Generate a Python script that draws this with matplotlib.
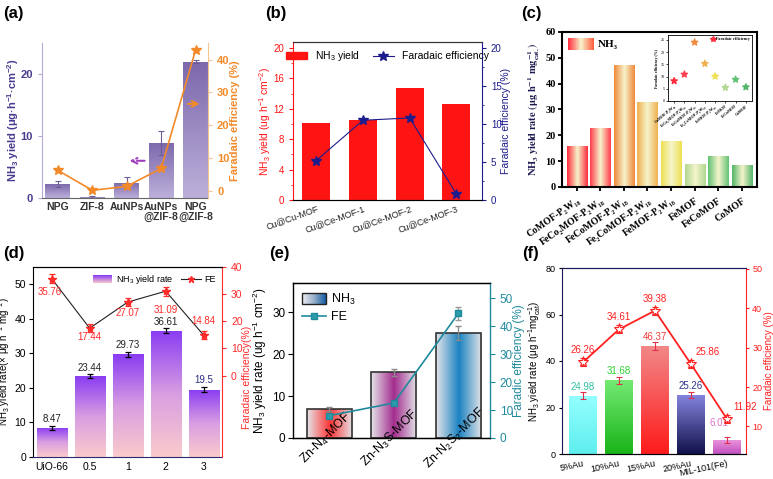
import numpy as np
import matplotlib
matplotlib.use('Agg')
import matplotlib.pyplot as plt
from matplotlib.colors import LinearSegmentedColormap
from matplotlib.legend_handler import HandlerBase
from matplotlib.patches import Rectangle, Patch
from matplotlib.lines import Line2D
from matplotlib.ticker import MultipleLocator

plt.rcParams['font.family'] = ['Liberation Sans', 'DejaVu Sans']
plt.rcParams['mathtext.fontset'] = 'custom'
plt.rcParams['mathtext.rm'] = 'Liberation Sans'
plt.rcParams['mathtext.it'] = 'Liberation Sans:italic'
plt.rcParams['mathtext.bf'] = 'Liberation Sans:bold'
plt.rcParams['mathtext.default'] = 'regular'

# ---- data ----
# (a)
a_labels = ['NPG', 'ZIF-8', 'AuNPs', 'AuNPs\n@ZIF-8', 'NPG\n@ZIF-8']
a_yield = [2.2, 0.1, 2.5, 8.9, 22.0]
a_yield_err = [0.5, 0.2, 0.9, 1.9, 0.3]
a_fe = [6.2, 0.1, 1.3, 6.8, 43.0]

# (b)
b_labels = ['Cu@Cu-MOF', 'Cu@Ce-MOF-1', 'Cu@Ce-MOF-2', 'Cu@Ce-MOF-3']
b_yield = [10.2, 10.5, 14.8, 12.7]
b_fe = [5.2, 10.5, 10.8, 0.8]

# (c)
c_labels = ['CoMOF-P₂W₁₈', 'FeCo₂MOF-P₂W₁₈', 'FeCoMOF-P₂W₁₈', 'Fe₂CoMOF-P₂W₁₈',
            'FeMOF-P₂W₁₈', 'FeMOF', 'FeCoMOF', 'CoMOF']
c_yield = [16.0, 22.7, 47.3, 33.0, 17.8, 8.8, 12.0, 8.7]
c_fe = [8.2, 10.9, 24.0, 15.3, 10.1, 5.5, 8.8, 5.7]
c_colors = ['#ff2a3a', '#ff3c4c', '#f0883a', '#f0b050', '#eee050', '#b0d890', '#62c274', '#52b466']

# (d)
d_labels = ['UiO-66', '0.5', '1', '2', '3']
d_yield = [8.47, 23.44, 29.73, 36.61, 19.5]
d_yield_err = [0.6, 0.6, 0.7, 0.6, 0.8]
d_fe = [35.76, 17.44, 27.07, 31.09, 14.84]
d_fe_err = [1.5, 1.5, 1.5, 1.6, 1.5]

# (e)
e_labels = ['Zn-N$_4$-MOF', 'Zn-N$_3$S-MOF', 'Zn-N$_2$S$_2$-MOF']
e_yield = [7.0, 15.7, 25.1]
e_yield_err = [0.5, 0.8, 1.6]
e_fe = [8.0, 12.5, 44.5]
e_fe_err = [0.8, 0.8, 2.5]
e_colors = ['#ff3434', '#a32c8e', '#1a82c2']

# (f)
f_labels = ['5%Au', '10%Au', '15%Au', '20%Au', 'MIL-101(Fe)']
f_yield = [24.98, 31.68, 46.37, 25.26, 6.01]
f_yield_err = [1.5, 1.4, 1.7, 1.3, 1.2]
f_fe = [26.26, 34.61, 39.38, 25.86, 11.92]
f_fe_err = [1.0, 1.0, 1.0, 1.0, 1.0]
f_bottom = ['#5eeeee', '#18b418', '#ff1a1a', '#10104a', '#c050c0']
f_top = ['#94ffff', '#74ea74', '#f28888', '#8484de', '#ea92da']
f_label_colors = ['#34c0a4', '#30d030', '#f03c3c', '#303090', '#e070c8']

W, H = 773, 479
fig = plt.figure(figsize=(W / 100, H / 100), dpi=100)


def px_axes(l, t, r, b):
    return fig.add_axes([l / W, 1 - b / H, (r - l) / W, (b - t) / H])


def fill_bars(ax, bars, colors, horizontal):
    # gradient image clipped to each bar
    for bar, cols in zip(bars, colors):
        cmap = LinearSegmentedColormap.from_list('bar', cols)
        g = np.linspace(0, 1, 128)
        img = g.reshape(1, -1) if horizontal else g.reshape(-1, 1)
        x0, y0 = bar.get_x(), bar.get_y()
        im = ax.imshow(img, cmap=cmap, origin='lower', aspect='auto', interpolation='bilinear',
                       extent=(x0, x0 + bar.get_width(), y0, y0 + bar.get_height()), zorder=1.5)
        im.set_clip_path(bar)


class GradientHandler(HandlerBase):
    def __init__(self, colors, horizontal=True, edgecolor='none'):
        super().__init__()
        self.cmap = LinearSegmentedColormap.from_list('lg', colors)
        self.horizontal = horizontal
        self.edgecolor = edgecolor

    def create_artists(self, legend, orig_handle, xdescent, ydescent, width, height, fontsize, trans):
        n = 40
        arts = []
        for i in range(n):
            c = self.cmap(i / (n - 1))
            if self.horizontal:
                r = Rectangle((-xdescent + width * i / n, -ydescent), width / n * 1.1, height,
                              fc=c, ec='none', lw=0, transform=trans)
            else:
                r = Rectangle((-xdescent, -ydescent + height * i / n), width, height / n * 1.1,
                              fc=c, ec='none', lw=0, transform=trans)
            arts.append(r)
        if self.edgecolor != 'none':
            arts.append(Rectangle((-xdescent, -ydescent), width, height, fill=False,
                                  ec=self.edgecolor, lw=1, transform=trans))
        return arts


# ================= (a) =================
purple = '#4a3b8f'
orange = '#f28a2a'
ax = px_axes(42, 43, 208, 198)
x = np.arange(len(a_labels))
bars = ax.bar(x, a_yield, width=0.72, color='none', edgecolor='none', zorder=2,
              yerr=a_yield_err, error_kw=dict(ecolor='#6d5c95', elinewidth=0.8, capsize=2, capthick=0.8, zorder=3))
fill_bars(ax, bars, [['#bcb0da', '#7c68ac']] * len(bars), horizontal=False)
ax.set_xlim(-0.46, 4.36)
ax.set_ylim(0, 25)
ax.set_yticks([0, 10, 20])
ax.set_xticks(x)
ax.set_xticklabels(a_labels, fontsize=7.5, fontweight='bold', color='#333333', linespacing=1.0)
ax.tick_params(axis='x', length=0, pad=3)
ax.tick_params(axis='y', colors='#b8a8d8', labelcolor=purple, labelsize=8, length=3)
for t in ax.get_yticklabels():
    t.set_fontweight('bold')
ax.spines['left'].set_color('#b8a8d8')
ax.spines['bottom'].set_color('#666666')
ax.spines['top'].set_visible(False)
ax.spines['right'].set_visible(False)
ax.set_ylabel('NH$_3$ yield (μg·h$^{-1}$·cm$^{-2}$)', color=purple, fontsize=8, fontweight='bold')
ax.yaxis.set_label_coords(-0.127, 0.5)
ax.annotate('', xy=(2.0, 6.0), xytext=(2.6, 6.0),
            arrowprops=dict(arrowstyle='->', color='#a040c0', lw=1.5, ls='--'))
ax2 = ax.twinx()
ax2.plot(x, a_fe, color=orange, marker='*', ms=7, lw=1.2)
ax2.set_ylim(-2.25, 45.1)
ax2.set_yticks([0, 10, 20, 30, 40])
ax2.tick_params(axis='y', colors='#f7c48f', labelcolor=orange, labelsize=8, length=3)
for t in ax2.get_yticklabels():
    t.set_fontweight('bold')
for s in ['left', 'top', 'bottom']:
    ax2.spines[s].set_visible(False)
ax2.spines['right'].set_color('#f7c48f')
ax2.set_ylabel('Faradaic efficiency (%)', color=orange, fontsize=8, fontweight='bold')
ax2.yaxis.set_label_coords(1.135, 0.5)
ax2.annotate('', xy=(4.2, 26.5), xytext=(3.7, 26.5),
             arrowprops=dict(arrowstyle='->', color=orange, lw=1.5))

# ================= (b) =================
red = '#ff1414'
navy = '#1c1c8c'
ax = px_axes(293, 42, 482, 200)
x = np.arange(len(b_labels))
ax.bar(x, b_yield, width=0.6, color=red, zorder=2)
ax.set_xlim(-0.5, 3.55)
ax.set_ylim(0, 20.8)
ax.yaxis.set_major_locator(MultipleLocator(4))
ax.yaxis.set_minor_locator(MultipleLocator(2))
ax.set_xticks(x)
ax.set_xticklabels(b_labels, rotation=20, ha='right', rotation_mode='anchor', fontsize=6.5, color='#222222')
ax.tick_params(axis='x', length=0, pad=3)
ax.tick_params(axis='y', which='both', colors=red, labelsize=7)
ax.tick_params(axis='y', which='major', length=3)
ax.tick_params(axis='y', which='minor', length=1.5)
ax.spines['left'].set_color(red)
ax.spines['right'].set_visible(False)
ax.spines['top'].set_color('#333333')
ax.spines['bottom'].set_color('#333333')
ax.set_ylabel('NH$_3$ yield (ug h$^{-1}$ cm$^{-2}$)', color=red, fontsize=7.5)
ax.yaxis.set_label_coords(-0.106, 0.5)
ax2 = ax.twinx()
ax2.plot(x, b_fe, color=navy, marker='*', ms=7, lw=0.8)
ax2.set_ylim(0, 20.8)
ax2.yaxis.set_major_locator(MultipleLocator(5))
ax2.yaxis.set_minor_locator(MultipleLocator(2.5))
ax2.tick_params(axis='y', which='both', colors=navy, labelsize=7)
ax2.tick_params(axis='y', which='major', length=3)
ax2.tick_params(axis='y', which='minor', length=1.5)
ax2.spines['right'].set_color(navy)
ax2.spines['left'].set_visible(False)
ax2.spines['top'].set_color('#333333')
ax2.set_ylabel('Faradaic efficiency (%)', color=navy, fontsize=7.5)
ax2.yaxis.set_label_coords(1.1, 0.5)
ax2.legend([Patch(color=red), Line2D([], [], color=navy, marker='*', ms=7, lw=0.8)],
           ['NH$_3$ yield', 'Faradaic efficiency'], loc='upper center', ncol=2, frameon=False,
           fontsize=7.5, handlelength=2.0, columnspacing=1.2, borderaxespad=0.3)

# ================= (c) =================
serif = ['Liberation Serif', 'DejaVu Serif']
ax = px_axes(562, 32, 757, 187)
x = np.arange(len(c_labels))
pale = '#f6f4cc'
bars = ax.bar(x, c_yield, width=0.85, color='none', edgecolor='none', zorder=2)
fill_bars(ax, bars, [[c, pale, c] for c in c_colors], horizontal=True)
ax.set_xlim(-0.62, 7.64)
ax.set_ylim(0, 60)
ax.set_yticks(np.arange(0, 61, 10))
ax.set_xticks(x)
ax.set_xticklabels(c_labels, rotation=35, ha='right', rotation_mode='anchor', fontsize=7,
                   family=serif, fontweight='bold')
for t in ax.get_yticklabels():
    t.set_family(serif)
    t.set_fontweight('bold')
ax.tick_params(axis='y', labelsize=7.5, width=1.3, length=3, pad=1.5)
ax.tick_params(axis='x', width=1.3, length=3)
for s in ax.spines.values():
    s.set_linewidth(1.5)
ax.set_ylabel(r'$\mathbf{NH_3\ yield\ rate\ (\mu g\ h^{-1}\ mg_{cat.}^{-1})}$', fontsize=7.5,
              color='#1a1a50', math_fontfamily='stix')
ax.yaxis.set_label_coords(-0.1, 0.5)
hc = Patch()
ax.legend([hc], ['NH₃'], loc='upper left', frameon=False, handlelength=2.4, handleheight=1.3,
          borderaxespad=0.1, handletextpad=0.3, prop=dict(family=serif, weight='bold', size=8),
          handler_map={hc: GradientHandler(['#ff2a3a', pale, '#ff5a3a'], horizontal=True)})

ins = px_axes(668, 35, 752, 101)
ins.scatter(x, c_fe, marker='*', s=22, c=c_colors, zorder=3)
ins.set_xlim(-0.6, 7.6)
ins.set_ylim(0, 27)
ins.set_yticks(np.arange(0, 26, 5))
ins.set_xticks(x)
ins.set_xticklabels(c_labels, rotation=40, ha='right', rotation_mode='anchor', fontsize=2.6,
                    family=serif, fontweight='bold')
for t in ins.get_yticklabels():
    t.set_family(serif)
ins.tick_params(labelsize=3, length=1.2, width=0.5, pad=1)
for s in ins.spines.values():
    s.set_linewidth(0.6)
ins.set_ylabel('Faradaic efficiency (%)', fontsize=2.8, family=serif, fontweight='bold', labelpad=1)
ins.legend([Line2D([], [], ls='none', marker='*', color='#ff2a3a', ms=4)], ['Faradaic efficiency'],
           loc='upper right', frameon=False, prop=dict(family=serif, weight='bold', size=3),
           handletextpad=0.1, borderaxespad=0.2, handlelength=1.0)

# ================= (d) =================
dred = '#ff2a2a'
ax = px_axes(33, 267, 222, 457)
x = np.arange(len(d_labels))
bars = ax.bar(x, d_yield, width=0.79, color='none', edgecolor='none', zorder=2,
              yerr=d_yield_err, error_kw=dict(ecolor='black', elinewidth=0.9, capsize=2.2, capthick=0.9, zorder=3))
fill_bars(ax, bars, [['#fbcacc', '#d89ee2', '#8a3cf2']] * len(bars), horizontal=False)
ax.set_xlim(-0.49, 4.48)
ax.set_ylim(0, 55)
ax.set_yticks(np.arange(0, 51, 10))
ax.set_xticks(x)
ax.set_xticklabels(d_labels, fontsize=7.5)
ax.tick_params(axis='both', labelsize=7.5, length=3)
ax.tick_params(axis='y', pad=2)
ax.tick_params(axis='x', length=0)
ax.spines['right'].set_visible(False)
ax.spines['bottom'].set_color('#2a2a70')
ax.set_ylabel('NH$_3$ yield rate(× μg h$^{-1}$ mg$^{-1}$)', fontsize=7)
ax.yaxis.set_label_coords(-0.11, 0.5)
bar_label_colors = ['#222222', '#222222', '#222222', '#222222', '#2a2a80']
for i, v in enumerate(d_yield):
    ax.annotate(f'{v:g}', (x[i], v + d_yield_err[i]), xytext=(0, 1), textcoords='offset points',
                ha='center', va='bottom', fontsize=7, color=bar_label_colors[i])
ax2 = ax.twinx()
ax2.plot(x, d_fe, color='#222222', lw=0.8, zorder=3)
ax2.errorbar(x, d_fe, yerr=d_fe_err, fmt='*', color=dred, ms=6, capsize=2, elinewidth=0.9, capthick=0.9, zorder=4)
ax2.set_ylim(-30, 40)
ax2.set_yticks(np.arange(0, 41, 10))
ax2.tick_params(axis='y', colors=dred, labelsize=7.5, length=3)
ax2.spines['right'].set_color(dred)
ax2.spines['left'].set_visible(False)
ax2.spines['bottom'].set_visible(False)
ax2.set_ylabel('Faradaic efficiency(%)', color=dred, fontsize=7.5)
ax2.yaxis.set_label_coords(1.105, 0.42)
fe_off = [(-1, -6), (0, -3), (0, -4), (0, -10), (0, 10)]
for i, v in enumerate(d_fe):
    ax2.annotate(f'{v:.2f}', (x[i], v), xytext=fe_off[i], textcoords='offset points',
                 ha='center', va='top' if fe_off[i][1] < 0 else 'center', fontsize=7, color=dred)
hd = Patch()
ax2.legend([hd, Line2D([], [], color='#222222', lw=0.8, marker='*', mfc=dred, mec=dred, ms=5)],
           ['NH$_3$ yield rate', 'FE'], loc='upper right', ncol=2, frameon=False, fontsize=6.5,
           handlelength=2.2, handleheight=1.0, columnspacing=0.8, handletextpad=0.4, borderaxespad=0.3,
           handler_map={hd: GradientHandler(['#fbcacc', '#8a3cf2'], horizontal=False)})

# ================= (e) =================
teal = '#1f8a9c'
ax = px_axes(293, 283, 490, 438)
x = np.arange(len(e_labels))
light = '#e4e4e8'
bars = ax.bar(x, e_yield, width=0.7, color='none', edgecolor='#333333', lw=1.2, zorder=2,
              yerr=e_yield_err, error_kw=dict(ecolor='#8a8a8a', elinewidth=1.0, capsize=2.5, capthick=1.0, zorder=3))
fill_bars(ax, bars, [[light, c, light] for c in e_colors], horizontal=True)
ax.set_xlim(-0.56, 2.49)
ax.set_ylim(0, 37)
ax.set_yticks([0, 10, 20, 30])
ax.set_xticks([])
ax.tick_params(axis='y', labelsize=8.5, length=3.5, pad=2)
ax.spines['right'].set_visible(False)
for s in ['left', 'top', 'bottom']:
    ax.spines[s].set_linewidth(1.0)
ax.set_ylabel('NH$_3$ yield rate (ug h$^{-1}$ cm$^{-2}$)', fontsize=8.5)
ax.yaxis.set_label_coords(-0.12, 0.5)
for i, lab in enumerate(e_labels):
    ax.text(x[i] - 0.05, 0.0, lab, transform=ax.get_xaxis_transform(), rotation=45,
            ha='center', va='center', fontsize=9, zorder=5)
ax2 = ax.twinx()
ax2.errorbar(x, e_fe, yerr=e_fe_err, fmt='none', ecolor='#9a9a9a', elinewidth=1.0, capsize=2.5, zorder=3)
ax2.plot(x, e_fe, color=teal, lw=1.2, marker='s', ms=4.5, mfc='#2c9aa8', mec=teal, zorder=4)
ax2.set_ylim(0, 55.4)
ax2.set_yticks(np.arange(0, 51, 10))
ax2.tick_params(axis='y', colors=teal, labelsize=8.5, length=3.5)
ax2.spines['right'].set_color(teal)
ax2.spines['right'].set_linewidth(1.0)
ax2.spines['left'].set_visible(False)
ax2.set_ylabel('Faradic efficiency (%)', color=teal, fontsize=8.5)
ax2.yaxis.set_label_coords(1.115, 0.5)
he = Patch()
ax2.legend([he, Line2D([], [], color=teal, lw=1.2, marker='s', ms=4.5, mfc='#2c9aa8')],
           ['NH$_3$', 'FE'], loc='upper left', frameon=False, fontsize=9, handlelength=1.9,
           handleheight=1.0, handletextpad=0.4, borderaxespad=0.3, labelspacing=0.3,
           handler_map={he: GradientHandler(['#eeeef2', '#9cb2cc', '#1a5fa6'], horizontal=True, edgecolor='#222222')})

# ================= (f) =================
fred = '#ff2020'
dark = '#1a1a5a'
ax = px_axes(562, 268, 746, 454)
x = np.arange(len(f_labels))
bars = ax.bar(x, f_yield, width=0.75, color='none', edgecolor='none', zorder=2,
              yerr=f_yield_err, error_kw=dict(ecolor='#e0304a', elinewidth=0.8, capsize=2, capthick=0.8, zorder=3))
fill_bars(ax, bars, [[b, t] for b, t in zip(f_bottom, f_top)], horizontal=False)
ax.set_xlim(-0.58, 4.53)
ax.set_ylim(0, 80)
ax.set_yticks(np.arange(0, 81, 20))
ax.set_xticks(x)
ax.set_xticklabels(f_labels, rotation=12, ha='right', rotation_mode='anchor', fontsize=6.5)
ax.tick_params(axis='both', labelsize=6.5, length=2.5)
ax.tick_params(axis='y', pad=2)
ax.tick_params(axis='x', length=0)
for s in ['left', 'top', 'bottom']:
    ax.spines[s].set_color(dark)
ax.spines['right'].set_visible(False)
ax.set_ylabel('NH$_3$ yield rate (μg h$^{-1}$mg$_{cat}^{-1}$)', fontsize=7)
ax.yaxis.set_label_coords(-0.105, 0.5)
bar_off = [(0, 3), (0, 3), (0, 3), (0, 3), (-6, 9)]
for i, v in enumerate(f_yield):
    ax.annotate(f'{v:.2f}', (x[i], v), xytext=bar_off[i], textcoords='offset points',
                ha='center', va='bottom', fontsize=7, color=f_label_colors[i])
ax2 = ax.twinx()
ax2.plot(x, f_fe, color=fred, lw=1.3, zorder=3)
ax2.errorbar(x, f_fe, yerr=f_fe_err, fmt='*', color=fred, mfc='white', mec=fred, ms=8, mew=0.8,
             capsize=2, elinewidth=0.8, capthick=0.8, zorder=4)
ax2.set_ylim(3, 50.2)
ax2.set_yticks(np.arange(10, 51, 10))
ax2.tick_params(axis='y', colors=fred, labelsize=6.5, length=2.5, pad=2)
ax2.spines['right'].set_color(fred)
ax2.spines['left'].set_visible(False)
ax2.spines['top'].set_color(dark)
ax2.set_ylabel('Faradaic efficiency (%)', color=fred, fontsize=7)
ax2.yaxis.set_label_coords(1.1, 0.5)
fe_off_f = [(0, 5), (0, 5), (0, 5), (12, 5), (13, 5)]
for i, v in enumerate(f_fe):
    ax2.annotate(f'{v:.2f}', (x[i], v), xytext=fe_off_f[i], textcoords='offset points',
                 ha='center', va='bottom', fontsize=7, color=fred)

# panel letters
for lab, (px, py) in zip(['(a)', '(b)', '(c)', '(d)', '(e)', '(f)'],
                         [(3, 6), (265, 6), (521, 6), (3, 246), (269, 246), (522, 246)]):
    fig.text(px / W, 1 - py / H, lab, fontsize=12, fontweight='bold', va='top', ha='left')

fig.savefig('out.png', dpi=100)
